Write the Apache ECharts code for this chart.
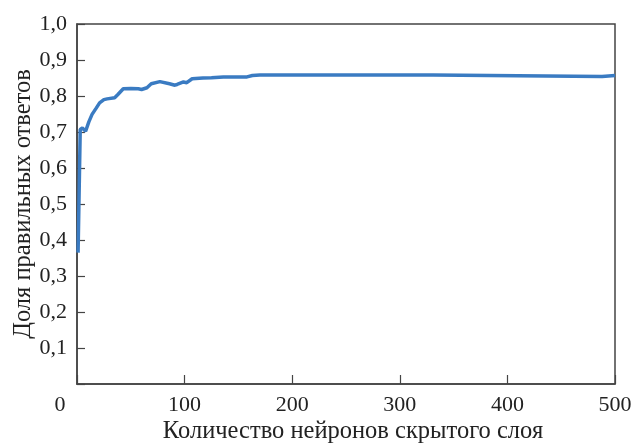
<!DOCTYPE html>
<html>
<head>
<meta charset="utf-8">
<script src="https://cdn.jsdelivr.net/npm/echarts@6/dist/echarts.min.js"></script>
<style>
  html, body { margin: 0; padding: 0; background: #fff; }
  #chart { width: 632px; height: 443px; }
</style>
</head>
<body>
<div id="chart"></div>
<script>
// число нейронов скрытого слоя
const neurons = [1, 3, 5, 8, 11, 14, 18, 21, 25, 28, 35, 38, 43, 50, 57, 60, 65, 69, 77, 86, 91, 93, 99, 102, 107, 117, 125, 136, 158, 163, 170, 250, 331, 332, 488, 489, 500];
// доля правильных ответов
const accuracy = [0.365, 0.707, 0.711, 0.702, 0.728, 0.749, 0.767, 0.781, 0.790, 0.792, 0.795, 0.804, 0.820, 0.821, 0.820, 0.818, 0.823, 0.834, 0.840, 0.834, 0.830, 0.832, 0.839, 0.837, 0.848, 0.850, 0.851, 0.853, 0.853, 0.857, 0.858, 0.858, 0.858, 0.854, 0.854, 0.857, 0.857];

const font = 'Liberation Serif';
const axisColor = '#444';

const chart = echarts.init(document.getElementById('chart'));
const option = {
  animation: false,
  grid: {
    left: 77,
    right: 17,
    top: 24,
    bottom: 59,
    outerBoundsMode: 'none',
    containLabel: false,
    show: true,
    borderColor: axisColor,
    borderWidth: 1.5
  },
  xAxis: {
    type: 'value',
    min: 0,
    max: 500,
    interval: 100,
    name: 'Количество нейронов скрытого слоя',
    nameLocation: 'middle',
    nameMoveOverlap: false,
    nameGap: 35,
    nameTextStyle: { fontFamily: font, fontSize: 24.5, color: '#222', padding: [0, 0, 0, 14] },
    axisLine: { lineStyle: { color: axisColor, width: 1.5 } },
    axisTick: { inside: true, length: 9, lineStyle: { color: axisColor, width: 1.2 } },
    splitLine: { show: false },
    axisLabel: {
      margin: 10,
      fontFamily: font,
      fontSize: 22,
      color: '#222',
      formatter: v => v === 0 ? '{o|0}' : String(v),
      rich: {
        o: { fontFamily: font, fontSize: 22, color: '#222', padding: [0, 34, 0, 0] }
      }
    }
  },
  yAxis: {
    type: 'value',
    min: 0,
    max: 1,
    interval: 0.1,
    name: 'Доля правильных ответов',
    nameLocation: 'middle',
    nameMoveOverlap: false,
    nameGap: 41,
    nameTextStyle: { fontFamily: font, fontSize: 24.5, color: '#222' },
    axisLine: { show: true, lineStyle: { color: axisColor, width: 1.5 } },
    axisTick: { show: true, inside: true, length: 8, lineStyle: { color: axisColor, width: 1.2 } },
    splitLine: { show: false },
    axisLabel: {
      margin: 10,
      fontFamily: font,
      fontSize: 22,
      color: '#222',
      formatter: v => v === 0 ? '' : v.toFixed(1).replace('.', ',')
    }
  },
  series: [{
    type: 'line',
    showSymbol: false,
    lineStyle: { color: '#3a7bc2', width: 3.5 },
    data: neurons.map((n, i) => [n, accuracy[i]])
  }]
};
chart.setOption(option);
</script>
</body>
</html>
